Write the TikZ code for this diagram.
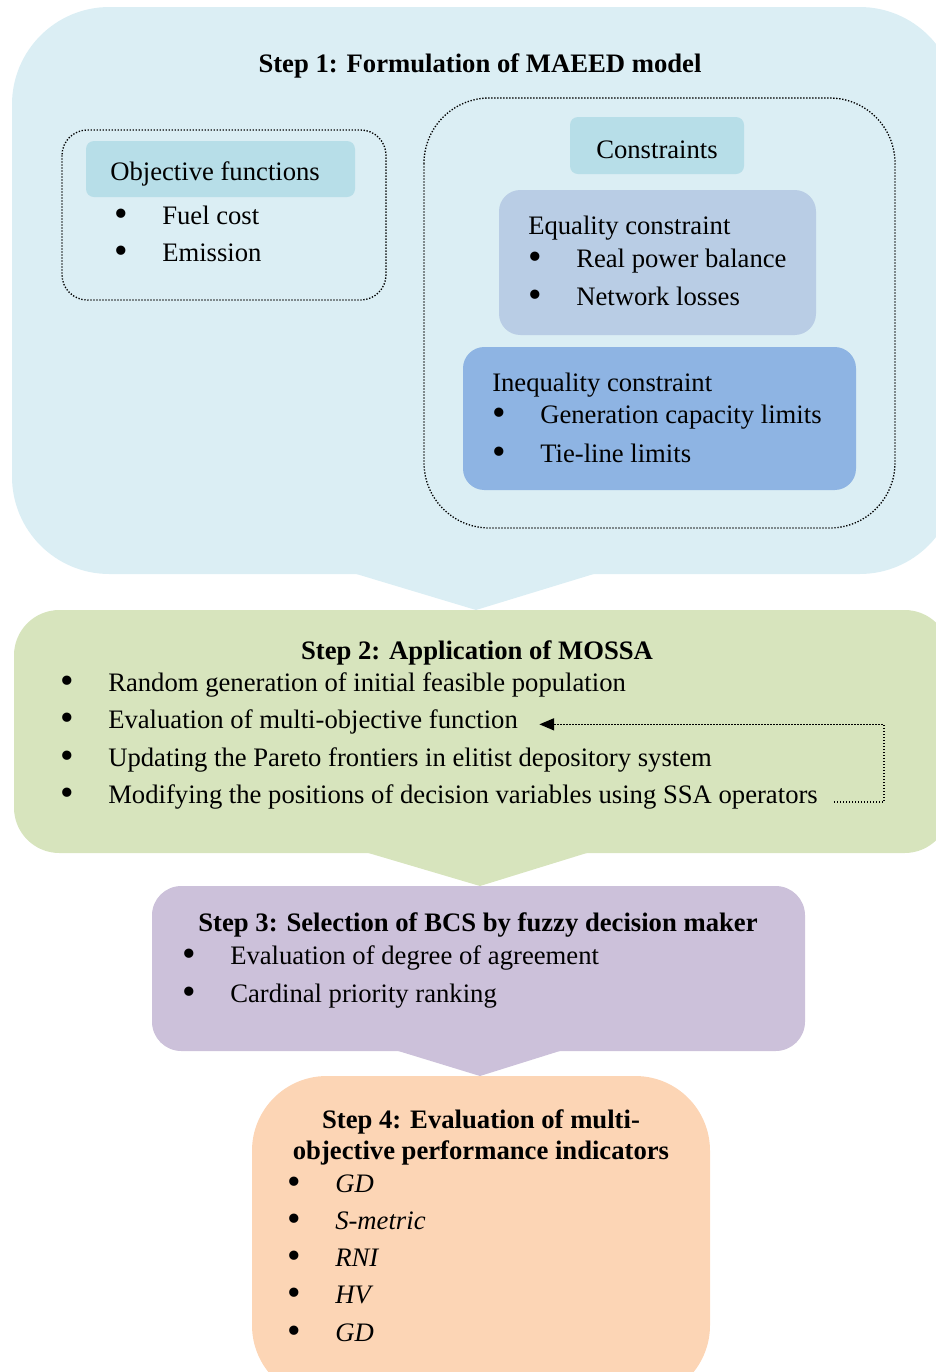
\documentclass[tikz,border=0pt]{standalone}
\usepackage{fontspec}
\setmainfont{Liberation Serif}
\usetikzlibrary{arrows.meta}

\definecolor{stepone}{HTML}{DBEEF4}
\definecolor{hdrblue}{HTML}{B7DEE8}
\definecolor{eqblue}{HTML}{B9CDE5}
\definecolor{ineqblue}{HTML}{8EB4E3}
\definecolor{steptwo}{HTML}{D7E4BD}
\definecolor{stepthree}{HTML}{CCC1DA}
\definecolor{stepfour}{HTML}{FCD5B5}

\newcommand{\itembul}{\makebox[36pt][l]{\raisebox{-.08em}{\scalebox{1.45}{\textbullet}}}}

\begin{document}
\begin{tikzpicture}[x=.75pt,y=-.75pt,
  txt/.style={anchor=west,inner sep=0pt,yshift=-2pt,font=\fontsize{20}{24}\selectfont},
  ttl/.style={inner sep=0pt,yshift=-2pt,font=\fontsize{20}{23.25}\selectfont\bfseries,align=center},
  dotbox/.style={line width=1pt,dash pattern=on 1pt off 1.25pt},
  fbarrow/.style={line width=1pt,dash pattern=on 1pt off 1.25pt,-{Triangle[length=11pt,width=9pt]}}]
\useasboundingbox (0,0) rectangle (936,1372);
\clip (0,0) rectangle (936,1372);

% step 1
\fill[stepone,rounded corners=73pt] (12,7) rectangle (957,574);
\fill[stepone] (353,573) -- (597,573) -- (476,610) -- cycle;
\node[ttl] (t1) at (480,63) {Step 1: Formulation of MAEED model};

\draw[dotbox,rounded corners=19pt] (62,130) rectangle (386,300);
\fill[hdrblue,rounded corners=6pt] (86,141) rectangle (355,197);
\node[txt] (obj) at (110,171) {Objective functions};
\foreach \y/\lbl [count=\i] in {214/Fuel cost,251/Emission}
  \node[txt] (obj\i) at (114,\y) {\itembul\lbl};

\draw[dotbox,rounded corners=49pt] (424,98) rectangle (895,528);
\fill[hdrblue,rounded corners=6pt] (570,117) rectangle (744,174);
\node[txt,anchor=center] (con) at (657,147) {Constraints};

\fill[eqblue,rounded corners=16pt] (499,190) rectangle (816,335);
\node[txt] (eq) at (528,225) {Equality constraint};
\foreach \y/\lbl [count=\i] in {258/Real power balance,295/Network losses}
  \node[txt] (eq\i) at (528,\y) {\itembul\lbl};

\fill[ineqblue,rounded corners=16pt] (463,347) rectangle (856,490);
\node[txt] (ineq) at (492,382) {Inequality constraint};
\foreach \y/\lbl [count=\i] in {414/Generation capacity limits,452/Tie-line limits}
  \node[txt] (ineq\i) at (492,\y) {\itembul\lbl};

% step 2
\fill[steptwo,rounded corners=34pt] (14,610) rectangle (950,853);
\fill[steptwo] (365,852) -- (590,852) -- (480,886) -- cycle;
\node[ttl] (t2) at (477,650) {Step 2: Application of MOSSA};
\foreach \y/\lbl [count=\i] in {682/Random generation of initial feasible population,
    719/Evaluation of multi-objective function,
    757/Updating the Pareto frontiers in elitist depository system,
    794/Modifying the positions of decision variables using SSA operators}
  \node[txt] (mo\i) at (60,\y) {\itembul\lbl};
\draw[fbarrow] ([shift={(12pt,-4pt)}]mo4.east) -- ++(50,0) |- ([shift={(16pt,-2pt)}]mo2.east);

% step 3
\fill[stepthree,rounded corners=22pt] (152,886) rectangle (805,1051);
\fill[stepthree] (395,1050) -- (563,1050) -- (480,1076) -- cycle;
\node[ttl] (t3) at (478,922) {Step 3: Selection of BCS by fuzzy decision maker};
\foreach \y/\lbl [count=\i] in {955/Evaluation of degree of agreement,993/Cardinal priority ranking}
  \node[txt] (bcs\i) at (182,\y) {\itembul\lbl};

% step 4
\fill[stepfour,rounded corners=56pt] (252,1076) rectangle (710,1400);
\node[ttl] (t4) at (481,1134.5) {Step 4: Evaluation of multi-\\objective performance indicators};
\foreach \y/\lbl [count=\i] in {1182/GD,1219/S-metric,1256/RNI,1293/HV,1331/GD}
  \node[txt] (ind\i) at (287,\y) {\itembul\textit{\lbl}};
\end{tikzpicture}
\end{document}
